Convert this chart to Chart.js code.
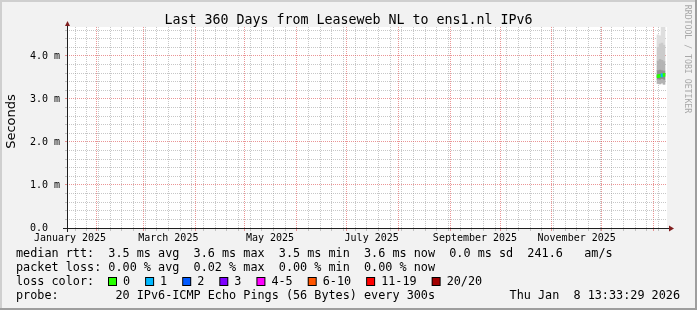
<!DOCTYPE html>
<html>
<head>
<meta charset="utf-8">
<title>Last 360 Days from Leaseweb NL to ens1.nl IPv6</title>
<script src="https://cdn.jsdelivr.net/npm/chart.js@4.4.1/dist/chart.umd.min.js"></script>
<style>
  html, body { margin: 0; padding: 0; background: #f2f2f2; }
  #wrap { width: 697px; height: 310px; }
</style>
</head>
<body>
<div id="wrap"><canvas id="smokeChart" width="697" height="310"></canvas></div>
<script>
// x axis is counted in days from 1 January 2025
const xStartDay = 13.2;
const xEndDay = 373.2;
const firstSunday = 18;
const monthStartDays = [31, 59, 90, 120, 151, 181, 212, 243, 273, 304, 334, 365];
const monthLabelDays = [15, 74, 135, 196, 258, 319];
const monthLabels = ['January 2025', 'March 2025', 'May 2025', 'July 2025', 'September 2025', 'November 2025'];

// y axis in milliseconds
const yMax = 4.674;
const yMinorStep = 0.2;
const yLabelValues = [0, 1, 2, 3, 4];
const yLabels = ['0.0  ', '1.0 m', '2.0 m', '3.0 m', '4.0 m'];

// smoke columns (rtt in ms, sorted pings split into bands)
const sampleDays = [367.8, 369.0, 370.2, 371.4];
const rttMin    = [3.36, 3.35, 3.37, 3.34];
const rttLow    = [3.45, 3.44, 3.46, 3.44];
const rttMedian = [3.53, 3.54, 3.55, 3.56];
const rttHigh   = [3.66, 3.67, 3.66, 3.65];
const rttUpper  = [3.88, 3.92, 3.90, 3.87];
const rttTop    = [4.20, 4.28, 4.30, 4.25];
const rttMax    = [4.49, 4.47, 4.90, 4.90];
const lossPerColumn = [0, 0, 1, 0];

const lossLabels = ['0', '1', '2', '3', '4-5', '6-10', '11-19', '20/20'];
const lossColors = ['#26ff00', '#00b8ff', '#0059ff', '#7e00ff', '#ff00fe', '#ff5500', '#ff0000', '#a10000'];

const titleText = 'Last 360 Days from Leaseweb NL to ens1.nl IPv6';
const legendRows = [
  'median rtt:  3.5 ms avg  3.6 ms max  3.5 ms min  3.6 ms now  0.0 ms sd  241.6   am/s',
  'packet loss: 0.00 % avg  0.02 % max  0.00 % min  0.00 % now',
  'loss color:',
  'probe:        20 IPv6-ICMP Echo Pings (56 Bytes) every 300s'
];
const stampText = 'Thu Jan  8 13:33:29 2026';

const MONO = '"DejaVu Sans Mono", monospace';
const gridMinor = 'rgba(143,143,143,0.5)';
const gridMajor = 'rgba(222,79,79,0.6)';
const clear = 'rgba(0,0,0,0)';

// x tick list: weekly minor lines, monthly major lines, mid-month labels
// (a label that falls on a grid day shares that tick)
const xTicks = [];
for (let d = firstSunday; d < xEndDay; d += 7) {
  if (!monthStartDays.includes(d)) xTicks.push({ day: d, kind: 'minor' });
}
monthStartDays.forEach(d => xTicks.push({ day: d, kind: 'major' }));
monthLabelDays.forEach((d, i) => {
  const same = xTicks.find(t => t.day === d);
  if (same) same.text = monthLabels[i];
  else xTicks.push({ day: d, kind: 'label', text: monthLabels[i] });
});
xTicks.sort((a, b) => a.day - b.day);

function xTickAt(value) {
  return xTicks.find(t => Math.abs(t.day - value) < 1e-6);
}
function xGridColor(c) {
  const t = c.tick ? xTickAt(c.tick.value) : null;
  if (!t) return clear;
  return t.kind === 'major' ? gridMajor : t.kind === 'minor' ? gridMinor : clear;
}

const yTicks = [];
for (let v = 0; v < yMax; v += yMinorStep) yTicks.push(Math.round(v * 10) / 10);

function yGridColor(c) {
  if (!c.tick) return clear;
  const v = c.tick.value;
  return Math.abs(v - Math.round(v)) < 1e-6 ? gridMajor : gridMinor;
}

// smoke bands, darker near the median
const bands = [
  [rttMin, rttLow, '#b2b2b2'],
  [rttLow, rttMedian, '#8a8a8a'],
  [rttMedian, rttHigh, '#939393'],
  [rttHigh, rttUpper, '#b4b4b4'],
  [rttUpper, rttTop, '#cbcbcb'],
  [rttTop, rttMax, '#dedede']
];

const datasets = bands.map(([lo, hi, color], k) => ({
  label: 'smoke ' + k,
  data: sampleDays.map((d, i) => ({ x: d, y: [lo[i], hi[i]] })),
  backgroundColor: color,
  borderWidth: 0,
  barThickness: 2,
  grouped: false,
  order: 10 + k
}));

datasets.push({
  label: 'median rtt',
  data: sampleDays.map((d, i) => ({ x: d, y: [rttMedian[i] - 0.035, rttMedian[i] + 0.035] })),
  backgroundColor: sampleDays.map((d, i) => lossColors[lossPerColumn[i]]),
  borderWidth: 0,
  barThickness: 2,
  grouped: false,
  order: 0
});

const rrdDecor = {
  id: 'rrdDecor',
  beforeDraw(chart) {
    const { ctx, chartArea: a, width, height } = chart;
    ctx.save();
    ctx.fillStyle = '#f2f2f2';
    ctx.fillRect(0, 0, width, height);
    ctx.fillStyle = '#cfcfcf';
    ctx.fillRect(0, 0, width, 2);
    ctx.fillRect(0, 0, 2, height);
    ctx.fillStyle = '#9e9e9e';
    ctx.fillRect(0, height - 2, width, 2);
    ctx.fillRect(width - 2, 0, 2, height);
    ctx.fillStyle = '#ffffff';
    ctx.fillRect(a.left, a.top, a.right - a.left, a.bottom - a.top);
    ctx.restore();
  },
  afterDraw(chart) {
    const { ctx, chartArea: a } = chart;
    ctx.save();

    // axes and arrows
    ctx.strokeStyle = '#1f1f1f';
    ctx.lineWidth = 1;
    ctx.beginPath();
    ctx.moveTo(a.left - 4, a.bottom + 0.5);
    ctx.lineTo(a.right + 4, a.bottom + 0.5);
    ctx.moveTo(a.left + 0.5, a.bottom + 4);
    ctx.lineTo(a.left + 0.5, a.top - 4);
    ctx.stroke();
    ctx.fillStyle = '#801f1f';
    ctx.beginPath();
    ctx.moveTo(a.left - 2, a.top - 1);
    ctx.lineTo(a.left + 3, a.top - 1);
    ctx.lineTo(a.left + 0.5, a.top - 6);
    ctx.closePath();
    ctx.fill();
    ctx.beginPath();
    ctx.moveTo(a.right + 2, a.bottom - 2.5);
    ctx.lineTo(a.right + 2, a.bottom + 3.5);
    ctx.lineTo(a.right + 7, a.bottom + 0.5);
    ctx.closePath();
    ctx.fill();

    // title
    ctx.fillStyle = '#000';
    ctx.font = '13.3px ' + MONO;
    ctx.textAlign = 'center';
    ctx.textBaseline = 'alphabetic';
    ctx.fillText(titleText, 348.5, 24);

    // unit label
    ctx.save();
    ctx.translate(15, 121.5);
    ctx.rotate(-Math.PI / 2);
    ctx.font = '13px "DejaVu Sans", sans-serif';
    ctx.fillText('Seconds', 0, 0);
    ctx.restore();

    // watermark
    ctx.save();
    ctx.translate(685, 59);
    ctx.rotate(Math.PI / 2);
    ctx.font = '8.2px ' + MONO;
    ctx.fillStyle = '#a8a8a8';
    ctx.fillText('RRDTOOL / TOBI OETIKER', 0, 0);
    ctx.restore();

    // legend
    ctx.font = '11.8px ' + MONO;
    ctx.textAlign = 'left';
    ctx.fillStyle = '#000';
    const rowY = [257, 271, 285, 299];
    legendRows.forEach((t, i) => ctx.fillText(t, 16, rowY[i]));
    let bx = 108;
    lossLabels.forEach((lab, i) => {
      ctx.fillStyle = '#000';
      ctx.fillRect(bx, 277, 9, 9);
      ctx.fillStyle = lossColors[i];
      ctx.fillRect(bx + 1, 278, 7, 7);
      ctx.fillStyle = '#000';
      ctx.fillText(lab, bx + 15, 285);
      bx += 15 + ctx.measureText(lab).width + 15;
    });
    ctx.textAlign = 'right';
    ctx.fillText(stampText, 680, 299);
    ctx.restore();
  }
};

new Chart(document.getElementById('smokeChart'), {
  type: 'bar',
  data: { datasets: datasets },
  options: {
    responsive: false,
    animation: false,
    events: [],
    layout: { padding: { left: 0, top: 27, right: 30, bottom: 0 } },
    plugins: { legend: { display: false }, tooltip: { enabled: false }, title: { display: false } },
    scales: {
      x: {
        type: 'linear',
        offset: false,
        min: xStartDay,
        max: xEndDay,
        afterBuildTicks: scale => { scale.ticks = xTicks.map(t => ({ value: t.day })); },
        afterFit: scale => { scale.height = 82; },
        grid: {
          offset: false,
          color: xGridColor,
          lineWidth: 1,
          drawTicks: true,
          tickLength: 3,
          tickBorderDash: [],
          tickColor: xGridColor
        },
        border: { display: false, dash: [1, 1] },
        ticks: {
          autoSkip: false,
          maxRotation: 0,
          minRotation: 0,
          padding: 1,
          color: '#000',
          font: { family: MONO, size: 10 },
          callback: v => {
            const t = xTickAt(v);
            return t && t.text ? t.text : '';
          }
        }
      },
      y: {
        type: 'linear',
        offset: false,
        min: 0,
        max: yMax,
        afterBuildTicks: scale => { scale.ticks = yTicks.map(v => ({ value: v })); },
        afterFit: scale => { scale.width = 67; },
        grid: {
          offset: false,
          color: yGridColor,
          lineWidth: 1,
          drawTicks: true,
          tickLength: 2,
          tickBorderDash: [],
          tickColor: yGridColor
        },
        border: { display: false, dash: [1, 1] },
        ticks: {
          autoSkip: false,
          padding: 5,
          color: '#000',
          font: { family: MONO, size: 10 },
          callback: v => {
            const k = yLabelValues.findIndex(y => Math.abs(y - v) < 1e-6);
            return k >= 0 ? yLabels[k] : '';
          }
        }
      }
    }
  },
  plugins: [rrdDecor]
});
</script>
</body>
</html>
